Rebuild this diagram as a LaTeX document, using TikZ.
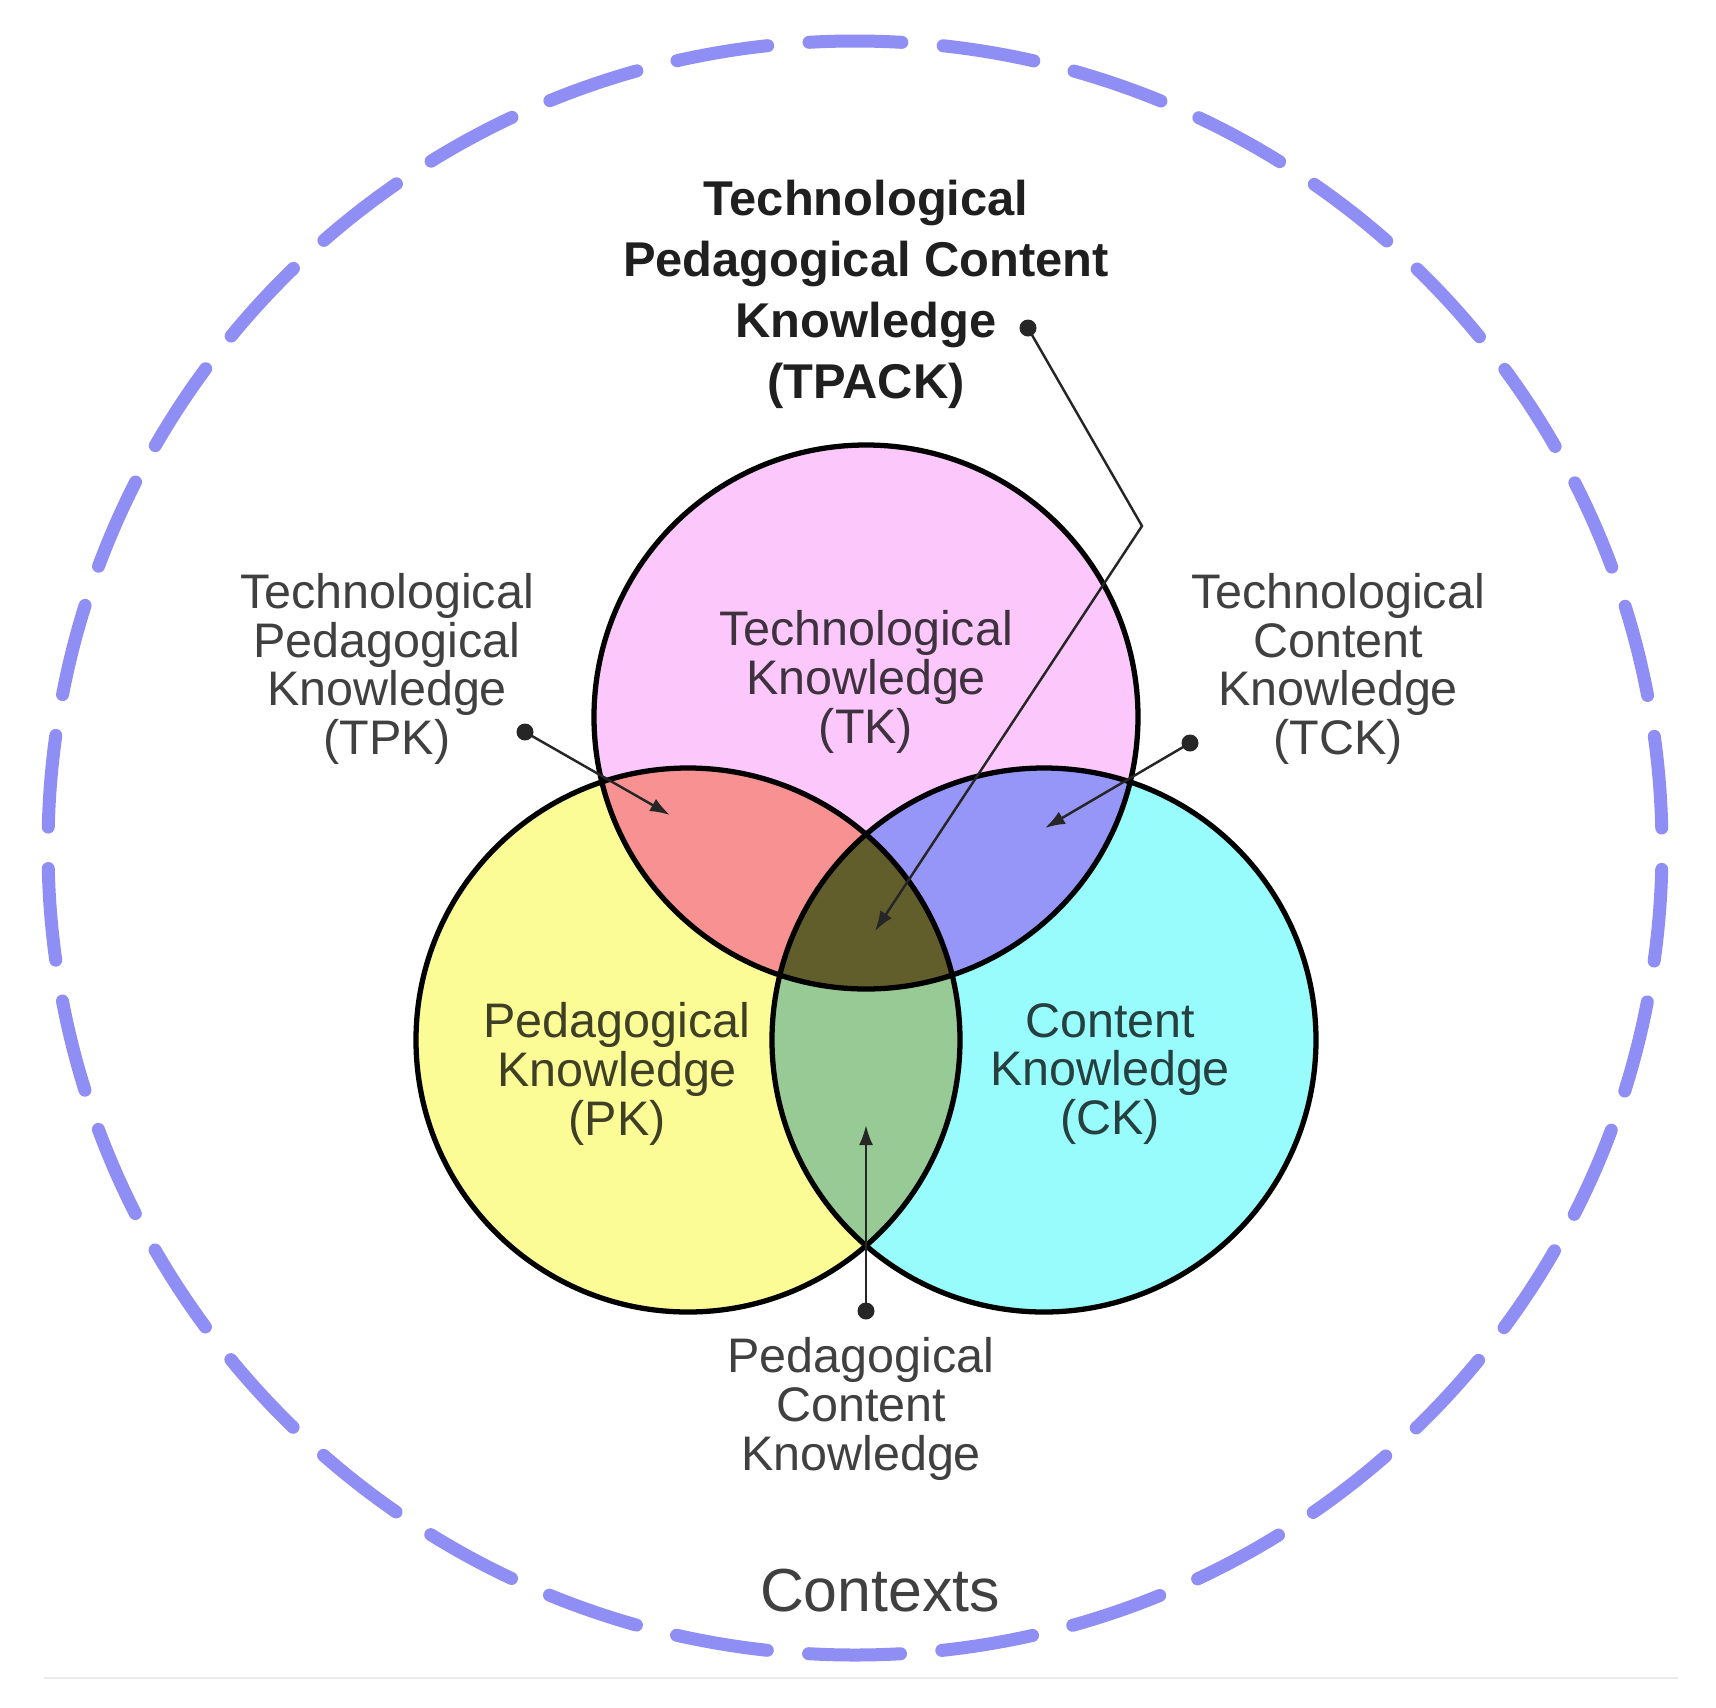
\documentclass[tikz,border=0pt]{standalone}
\usepackage{fontspec}
\setmainfont{Liberation Sans}
\usetikzlibrary{arrows.meta}

\definecolor{tkpink}{RGB}{252,200,252}
\definecolor{pkyellow}{RGB}{252,252,150}
\definecolor{ckcyan}{RGB}{152,252,252}
\definecolor{tpkred}{RGB}{248,146,146}
\definecolor{tckblue}{RGB}{150,150,248}
\definecolor{pckgreen}{RGB}{152,202,150}
\definecolor{tpackolive}{RGB}{98,94,44}
\definecolor{ctxblue}{RGB}{142,142,245}
\newcommand{\vennr}{2.72}

\begin{document}
\begin{tikzpicture}[every node/.style={align=center,text=black,text opacity=0.75,font=\fontsize{13.8pt}{13.9pt}\selectfont},
  pointer/.style={line width=0.7pt,black!85,-{Latex[length=0.2cm,width=0.14cm]}},
  dot/.style={fill=black!85},
  ring/.style={line width=1.5pt,black}]
\useasboundingbox (0,0) rectangle (17.16,-17.08);

% contexts
\draw[ctxblue,line width=0.13cm,line cap=round,dash pattern=on 0.92cm off 0.4143cm,dash phase=0.46cm]
  (8.55,-0.41) arc[start angle=90,end angle=450,radius=8.07];
\draw[black!8,line width=0.02cm] (0.44,-16.78) -- (16.78,-16.78);

% the three knowledge circles
\coordinate (tkc) at (8.66,-7.17);
\coordinate (pkc) at (6.88,-10.40);
\coordinate (ckc) at (10.44,-10.40);
\fill[tkpink] (tkc) circle (\vennr);
\fill[pkyellow] (pkc) circle (\vennr);
\fill[ckcyan] (ckc) circle (\vennr);
\begin{scope}
\clip (tkc) circle (\vennr);
\fill[tpkred] (pkc) circle (\vennr);
\fill[tckblue] (ckc) circle (\vennr);
\end{scope}
\begin{scope}
\clip (pkc) circle (\vennr);
\fill[pckgreen] (ckc) circle (\vennr);
\end{scope}
\begin{scope}
\clip (tkc) circle (\vennr);
\clip (pkc) circle (\vennr);
\fill[tpackolive] (ckc) circle (\vennr);
\end{scope}
\draw[ring] (tkc) circle (\vennr) (pkc) circle (\vennr) (ckc) circle (\vennr);

% labels
\node(tpack) at (8.66,-2.94) [text opacity=0.88,font=\fontsize{13.9pt}{17.35pt}\bfseries\selectfont]
  {Technological\\Pedagogical Content\\Knowledge\\(TPACK)};
\node(tpk) at (3.87,-6.69) {Technological\\Pedagogical\\Knowledge\\(TPK)};
\node(tk) at (8.66,-6.82) {Technological\\Knowledge\\(TK)};
\node(tck) at (13.38,-6.69) {Technological\\Content\\Knowledge\\(TCK)};
\node(pk) at (6.17,-10.74) {Pedagogical\\Knowledge\\(PK)};
\node(ck) at (11.10,-10.74) {Content\\Knowledge\\(CK)};
\node(pck) at (8.61,-14.09) {Pedagogical\\Content\\Knowledge};
\node(ctx) at (8.80,-15.91) [font=\fontsize{17.3pt}{20pt}\selectfont] {Contexts};

% pointers
\coordinate(tpackdot) at (10.28,-3.28);
\coordinate(tpackbend) at (11.42,-5.26);
\coordinate(tpacktip) at (8.75,-9.31);
\coordinate(tpkdot) at (5.25,-7.32);
\coordinate(tpktip) at (6.70,-8.15);
\coordinate(tckdot) at (11.90,-7.43);
\coordinate(tcktip) at (10.45,-8.28);
\coordinate(pckdot) at (8.66,-13.11);
\coordinate(pcktip) at (8.66,-11.25);

\fill[dot] (tpackdot) circle (0.085); \fill[dot] (tpkdot) circle (0.085);
\fill[dot] (tckdot) circle (0.085); \fill[dot] (pckdot) circle (0.085);
\draw[pointer] (tpackdot)--(tpackbend)--(tpacktip);
\draw[pointer] (tpkdot)--(tpktip);
\draw[pointer] (tckdot)--(tcktip);
\draw[pointer] (pckdot)--(pcktip);
\end{tikzpicture}
\end{document}
